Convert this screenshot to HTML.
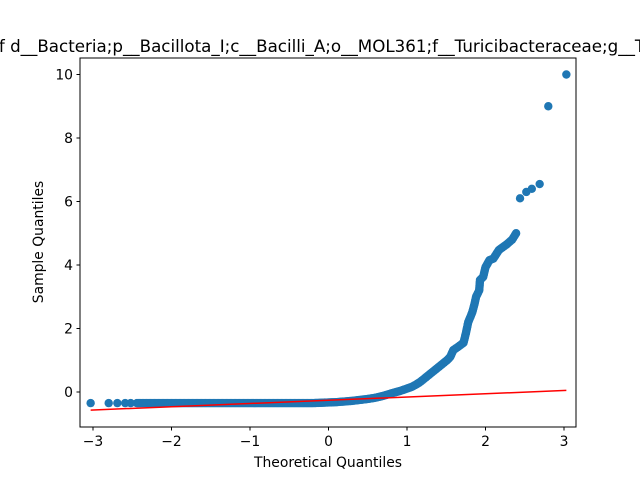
<!DOCTYPE html>
<html><head><meta charset="utf-8"><style>
body{margin:0;background:#fff;width:640px;height:480px;overflow:hidden}
text{font-family:"DejaVu Sans","Liberation Sans",sans-serif}
</style></head><body>
<svg id="chart" width="640" height="480" xmlns="http://www.w3.org/2000/svg">
<rect width="640" height="480" fill="#fff"/>
<g id="plot"></g>
<text x="328" y="467" font-size="13.9" text-anchor="middle">Theoretical Quantiles</text>
<text transform="translate(43,242) rotate(-90)" font-size="13.9" text-anchor="middle">Sample Quantiles</text>
<text x="322" y="52" font-size="16.7" text-anchor="middle">f d__Bacteria;p__Bacillota_I;c__Bacilli_A;o__MOL361;f__Turicibacteraceae;g__T</text>
</svg>
<script>
const theoX=[-3.03,-2.8,-2.69,-2.59,-2.52,-2.44,-2.39,-2.3,-2.2,-2.1,-2.0,-1.9,-1.8,-1.7,-1.6,-1.5,-1.4,-1.3,-1.2,-1.1,-1.0,-0.9,-0.8,-0.7,-0.6,-0.5,-0.4,-0.3,-0.2,-0.1,0.0,0.1,0.2,0.3,0.4,0.5,0.6,0.7,0.78,0.85,0.91,0.98,1.06,1.12,1.17,1.21,1.25,1.3,1.36,1.41,1.46,1.51,1.55,1.59,1.65,1.72,1.75,1.78,1.83,1.86,1.88,1.92,1.93,1.97,2.0,2.05,2.1,2.17,2.27,2.34,2.39,2.44,2.52,2.59,2.69,2.8,3.03];
const sampleY=[-0.35,-0.35,-0.35,-0.35,-0.35,-0.35,-0.35,-0.35,-0.35,-0.35,-0.35,-0.35,-0.35,-0.35,-0.35,-0.35,-0.35,-0.35,-0.35,-0.35,-0.35,-0.35,-0.35,-0.35,-0.35,-0.35,-0.35,-0.35,-0.35,-0.34,-0.33,-0.32,-0.3,-0.28,-0.25,-0.22,-0.18,-0.12,-0.06,-0.01,0.03,0.09,0.16,0.24,0.32,0.4,0.48,0.58,0.7,0.8,0.9,1.0,1.1,1.32,1.42,1.55,1.85,2.2,2.5,2.77,3.0,3.2,3.53,3.62,3.93,4.15,4.2,4.47,4.65,4.8,5.0,6.1,6.3,6.4,6.55,9.0,10.0];
const fitX=[-3.03,3.03];
const fitY=[-0.57,0.05];
const xTicks=[-3,-2,-1,0,1,2,3];
const yTicks=[0,2,4,6,8,10];
const L=80,R=576,T=58,B=427;
const sx=v=>328.5+v*78.5;
const sy=v=>392-v*31.75;
const NS="http://www.w3.org/2000/svg";
const g=document.getElementById('plot');
function mk(tag,attrs,parent){const e=document.createElementNS(NS,tag);for(const k in attrs)e.setAttribute(k,attrs[k]);(parent||g).appendChild(e);return e;}
const pts=mk('g',{});


for(let i=0;i<theoX.length;i++){
  const c=mk('circle',{cx:sx(theoX[i]),cy:sy(sampleY[i]),r:4.2,fill:'#1f77b4'},pts);
  
  
  if(i>0&&theoX[i]>-2.4&&theoX[i]<2.42){const dx=sx(theoX[i])-sx(theoX[i-1]),dy=sy(sampleY[i])-sy(sampleY[i-1]);const d=Math.hypot(dx,dy);
    if(d<14){const n=Math.ceil(d/1.5);for(let k=1;k<n;k++){mk('circle',{cx:sx(theoX[i-1])+dx*k/n,cy:sy(sampleY[i-1])+dy*k/n,r:4.2,fill:'#1f77b4'},pts);}}}
}
const fl=mk('line',{x1:sx(fitX[0]),y1:sy(fitY[0]),x2:sx(fitX[1]),y2:sy(fitY[1]),stroke:'#ff0000','stroke-width':1.5});


const fr=mk('rect',{x:L,y:T,width:R-L,height:B-T,fill:'none',stroke:'#000','stroke-width':1});


xTicks.forEach(t=>{const x=sx(t);mk('line',{x1:x,y1:B,x2:x,y2:B+3.5,stroke:'#000'});
  const tx=mk('text',{x:x,y:B+19,'font-size':13.9,'text-anchor':'middle'});tx.textContent=t<0?'\u2212'+(-t):t;
  
  });
yTicks.forEach(t=>{const y=sy(t);mk('line',{x1:L-3.5,y1:y,x2:L,y2:y,stroke:'#000'});
  const tx=mk('text',{x:L-7,y:y+5,'font-size':13.9,'text-anchor':'end'});tx.textContent=t;
  
  });
</script>
</body></html>
